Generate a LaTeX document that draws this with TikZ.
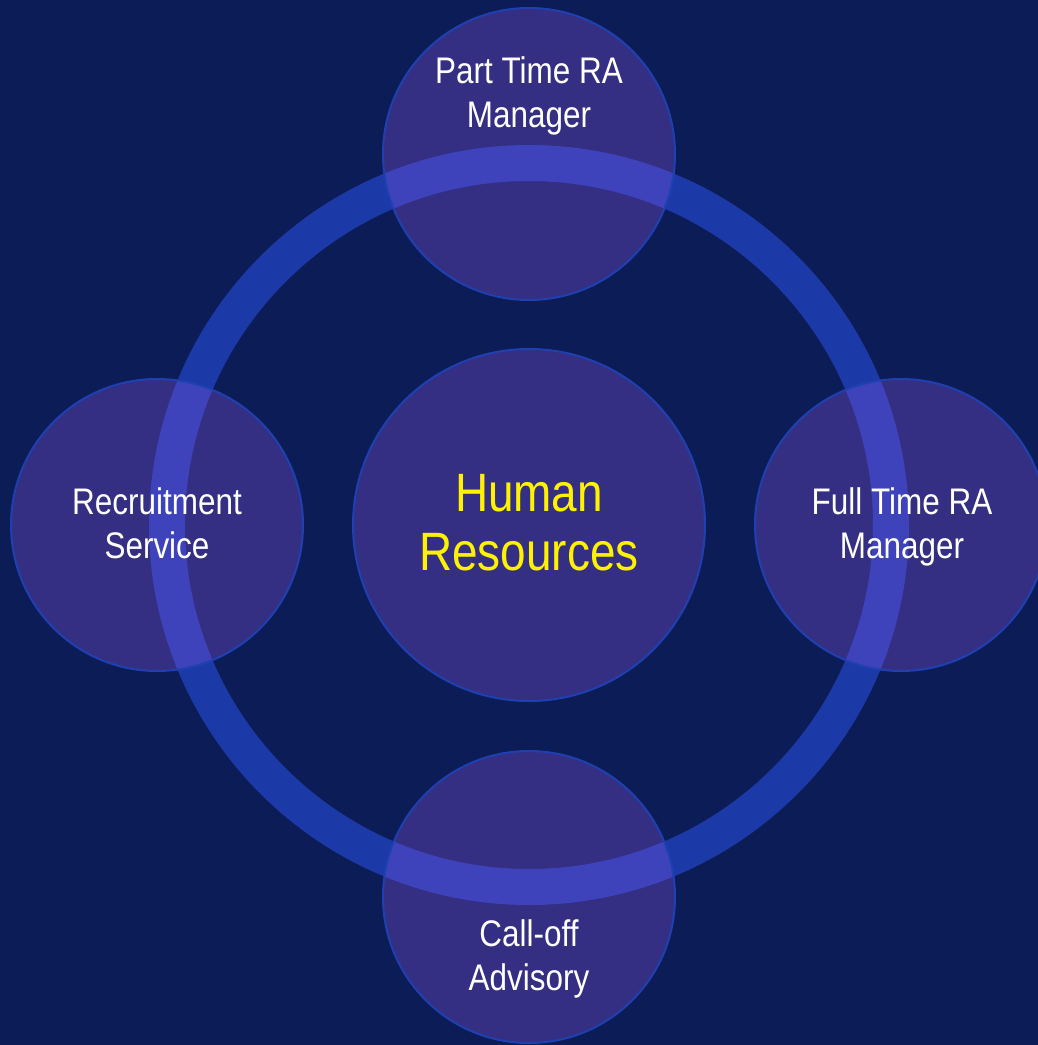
\documentclass[tikz,border=0pt]{standalone}
\usepackage{fontspec}
\setmainfont{Liberation Sans}[FakeStretch=0.85]
\definecolor{navybg}{RGB}{12,28,86}
\definecolor{ringblue}{RGB}{27,58,168}
\definecolor{bubble}{RGB}{145,91,233}
\definecolor{rimblue}{RGB}{30,64,176}
\tikzset{
  bub/.style={circle, inner sep=0pt, minimum size=146pt, draw=rimblue, line width=1pt,
    fill=bubble, fill opacity=0.3},
  lbl/.style={inner sep=0pt, align=center, text=white, font=\fontsize{18.5}{22}\selectfont},
}
\begin{document}
\begin{tikzpicture}[x=0.5pt, y=-0.5pt]
    \useasboundingbox (0,0) rectangle (1038,1045);
    \clip (0,0) rectangle (1038,1045);
    \fill[navybg] (0,0) rectangle (1038,1045);

    % hub and ring
    \node[bub, minimum size=176pt] (0) at (529,525) {};
    \draw[ringblue, line width=18pt] (0.center) circle (181pt);

    % four satellites
    \node[bub] (1) at (529,154) {};
    \node[bub] (2) at (901,525) {};
    \node[bub] (3) at (529,897) {};
    \node[bub] (4) at (157,525) {};

    \node[lbl, text=yellow, font=\fontsize{27}{29.5}\selectfont] (t0) at (0) [yshift=1pt] {Human\\Resources};
    \node[lbl] (t1) at (529,96) {Part Time RA\\Manager};
    \node[lbl] (t2) at (902,527) {Full Time RA\\Manager};
    \node[lbl] (t3) at (529,959) {Call-off\\Advisory};
    \node[lbl] (t4) at (157,523) {Recruitment\\Service};
\end{tikzpicture}
\end{document}
